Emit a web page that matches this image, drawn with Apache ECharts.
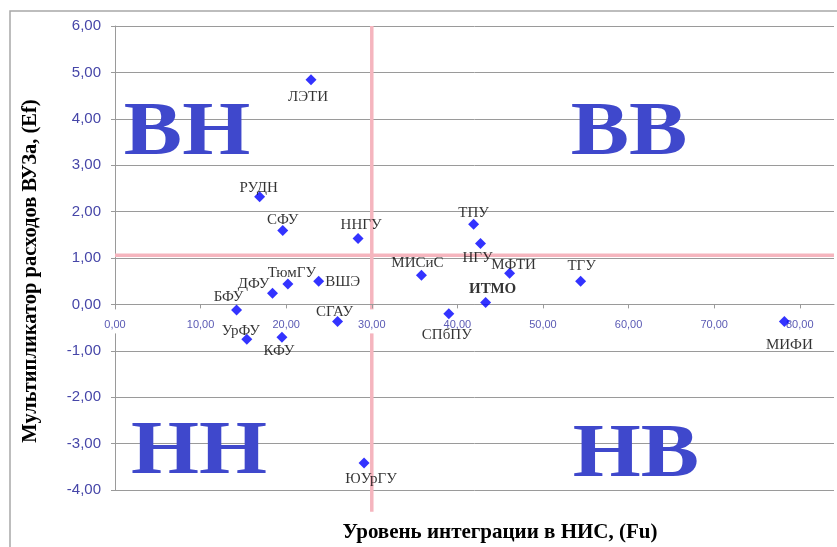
<!DOCTYPE html>
<html>
<head>
<meta charset="utf-8">
<script src="https://cdn.jsdelivr.net/npm/echarts@6/dist/echarts.min.js"></script>
<style>
  html, body { margin: 0; padding: 0; background: #fff; }
  #main { width: 837px; height: 547px; }
</style>
</head>
<body>
<div id="main"></div>
<script>
var myChart = echarts.init(document.getElementById('main'));

// universities
var names = ['ЛЭТИ', 'РУДН', 'СФУ', 'ННГУ', 'ТПУ', 'НГУ', 'МИСиС', 'МФТИ', 'ТГУ', 'ИТМО',
             'СПбПУ', 'МИФИ', 'ТюмГУ', 'ВШЭ', 'ДФУ', 'БФУ', 'УрФУ', 'КФУ', 'СГАУ', 'ЮУрГУ'];
// level of integration (Fu)
var fu = [22.9, 16.9, 19.6, 28.4, 41.9, 42.7, 35.8, 46.1, 54.4, 43.3,
          39.0, 78.2, 20.2, 23.8, 18.4, 14.2, 15.4, 19.5, 26.0, 29.1];
// expense multiplier (Ef)
var ef = [4.84, 2.32, 1.59, 1.42, 1.73, 1.31, 0.63, 0.67, 0.50, 0.04,
          -0.20, -0.37, 0.44, 0.50, 0.24, -0.12, -0.75, -0.71, -0.37, -3.42];

// quadrant split lines
var splitFu = 30;
var splitEf = 1.06;
var vLineEf = [6, -4.47];
var hLineFu = [0, 84];

var quadrants = ['ВН', 'ВВ', 'НН', 'НВ'];

// label placement (offset from the marker, px)
var labelOffset = {
  'ЛЭТИ': [-3, 17], 'РУДН': [-1, -9], 'СФУ': [0, -11], 'ННГУ': [3, -13],
  'ТПУ': [0, -11], 'НГУ': [-3, 14], 'МИСиС': [-4, -12], 'МФТИ': [4, -8],
  'ТГУ': [1, -15], 'ИТМО': [7, -13], 'СПбПУ': [-2, 21], 'МИФИ': [5, 23],
  'ТюмГУ': [4, -11], 'ВШЭ': [24, 1], 'ДФУ': [-19, -9], 'БФУ': [-8, -13],
  'УрФУ': [-6, -8], 'КФУ': [-3, 14], 'СГАУ': [-3, -10], 'ЮУрГУ': [7, 16]
};

var points = names.map(function (n, i) {
  return {
    name: n,
    value: [fu[i], ef[i]],
    label: {
      offset: labelOffset[n],
      fontWeight: n === 'ИТМО' ? 'bold' : 'normal'
    }
  };
});

function fmt(v) { return v.toFixed(2).replace('.', ','); }

var yMin = -4, yMax = 6;
var gridTop = 26, gridBottom = 57, chartH = 547;
// x axis crosses the y axis at 0 (moved up from the bottom of the grid)
var plotH = chartH - gridTop - gridBottom;
var xAxisOffset = -plotH * (0 - yMin) / (yMax - yMin);

var bigFont = 'bold 76px "Liberation Serif", "Times New Roman", serif';
var quadPos = [[187, 134], [629, 134], [199, 453], [636, 456]];

var option = {
  animation: false,
  grid: { left: 115, top: gridTop, right: 3, bottom: gridBottom },
  xAxis: {
    type: 'value',
    min: 0, max: 84, interval: 10,
    offset: xAxisOffset,
    z: 3,
    axisLine: { show: true, onZero: false, lineStyle: { color: '#9a9a9a', width: 1 } },
    axisTick: { show: true, length: 4, lineStyle: { color: '#9a9a9a' } },
    splitLine: { show: false },
    axisLabel: {
      showMaxLabel: false,
      margin: 5,
      fontSize: 11,
      fontFamily: '"Liberation Sans", Arial, sans-serif',
      color: '#5a5ab4',
      backgroundColor: '#fff',
      padding: [10, 2, 3, 2],
      formatter: fmt
    }
  },
  yAxis: {
    type: 'value',
    min: yMin, max: yMax, interval: 1,
    axisLine: { show: true, onZero: false, lineStyle: { color: '#9a9a9a', width: 1 } },
    axisTick: { show: true, length: 4, lineStyle: { color: '#9a9a9a' } },
    splitLine: { show: true, lineStyle: { color: '#9a9a9a', width: 1 } },
    axisLabel: {
      margin: 14,
      fontSize: 15,
      fontFamily: '"Liberation Sans", Arial, sans-serif',
      color: '#4646a8',
      formatter: fmt
    }
  },
  series: [
    {
      type: 'line',
      z: 2,
      clip: false,
      symbol: 'none',
      silent: true,
      lineStyle: { color: '#f5b5be', width: 3.5 },
      data: vLineEf.map(function (v) { return [splitFu, v]; })
    },
    {
      type: 'line',
      z: 2,
      clip: false,
      symbol: 'none',
      silent: true,
      lineStyle: { color: '#f5b5be', width: 3.5 },
      data: hLineFu.map(function (v) { return [v, splitEf]; })
    },
    {
      type: 'scatter',
      z: 4,
      symbol: 'diamond',
      symbolSize: 11,
      itemStyle: { color: '#0000ff' },
      label: {
        show: true,
        position: 'inside',
        formatter: '{b}',
        color: '#000',
        fontSize: 15,
        fontFamily: '"Liberation Serif", "Times New Roman", serif'
      },
      data: points
    }
  ],
  graphic: [
    {
      type: 'rect',
      silent: true,
      z: -1,
      shape: { x: 10, y: 11, width: 900, height: 600 },
      style: { fill: 'none', stroke: '#a8a8a8', lineWidth: 1.5 }
    },
    {
      type: 'text',
      x: 31, y: 271,
      rotation: Math.PI / 2,
      style: {
        text: 'Мультипликатор расходов ВУЗа, (Ef)',
        font: 'bold 20.5px "Liberation Serif", "Times New Roman", serif',
        fill: '#000',
        textAlign: 'center',
        textVerticalAlign: 'middle'
      }
    },
    {
      type: 'text',
      x: 500, y: 533,
      style: {
        text: 'Уровень интеграции в НИС, (Fu)',
        font: 'bold 21px "Liberation Serif", "Times New Roman", serif',
        fill: '#000',
        textAlign: 'center',
        textVerticalAlign: 'middle'
      }
    }
  ].concat(quadrants.map(function (q, i) {
    return {
      type: 'text',
      x: quadPos[i][0], y: quadPos[i][1],
      scaleX: 1.15,
      z: 1,
      style: {
        text: q,
        font: bigFont,
        fill: '#3f48cc',
        textAlign: 'center',
        textVerticalAlign: 'middle'
      }
    };
  }))
};
myChart.setOption(option);
</script>
</body>
</html>
